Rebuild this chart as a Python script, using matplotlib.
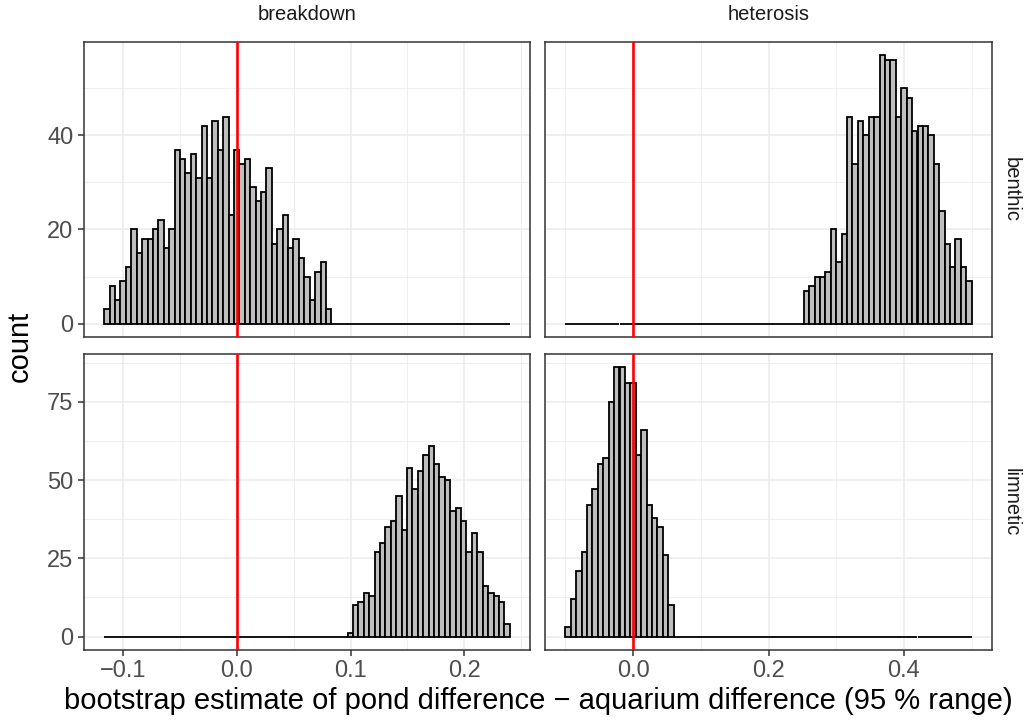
import numpy as np
import matplotlib
matplotlib.use("Agg")
import matplotlib.pyplot as plt

plt.rcParams['font.family'] = ['Liberation Sans', 'DejaVu Sans']
plt.rcParams['axes.unicode_minus'] = True

# ---------------- data ----------------
n_bins = 75
col_names = ["breakdown", "heterosis"]
row_names = ["benthic", "limnetic"]

# x range covered by the bins of each column (shared by panels in a column)
breakdown_range = (-0.1165, 0.2400)
heterosis_range = (-0.1000, 0.5000)

# position (x value) of the first non-empty bin in each panel
benthic_breakdown_start = -0.1165
limnetic_breakdown_start = 0.0977
benthic_heterosis_start = 0.2520
limnetic_heterosis_start = -0.1000

benthic_breakdown_counts = [3, 8, 5, 9, 12, 20, 15, 18, 18, 20, 22, 16, 20, 37, 35, 32, 36, 31,
                            42, 31, 43, 37, 44, 23, 37, 34, 35, 29, 26, 28, 33, 17, 20, 23, 16,
                            18, 14, 10, 5, 11, 13, 3]
limnetic_breakdown_counts = [1, 10, 11, 14, 13, 27, 30, 35, 37, 45, 34, 54, 47, 53, 58, 61, 55,
                             51, 50, 40, 41, 37, 27, 33, 27, 16, 14, 13, 11, 4]
benthic_heterosis_counts = [7, 8, 10, 10, 11, 20, 13, 19, 44, 34, 43, 40, 44, 44, 57, 56, 56, 44,
                            50, 48, 41, 42, 42, 40, 34, 24, 17, 12, 18, 12, 9]
limnetic_heterosis_counts = [3, 12, 21, 27, 42, 47, 55, 57, 75, 86, 86, 81, 81, 58, 66, 42, 38,
                             35, 26, 10]

x_major_breakdown = [-0.1, 0.0, 0.1, 0.2]
x_labels_breakdown = ["\u22120.1", "0.0", "0.1", "0.2"]
x_minor_breakdown = [-0.05, 0.05, 0.15, 0.25]
x_major_heterosis = [0.0, 0.2, 0.4]
x_labels_heterosis = ["0.0", "0.2", "0.4"]
x_minor_heterosis = [-0.1, 0.1, 0.3, 0.5]

y_major_benthic = [0, 20, 40]
y_minor_benthic = [10, 30, 50]
y_major_limnetic = [0, 25, 50, 75]
y_minor_limnetic = [12.5, 37.5, 62.5, 87.5]

ref_line = 0.0

# ---------------- figure ----------------
W, H = 1030, 726
fig = plt.figure(figsize=(W / 100, H / 100), dpi=100)

col_px = [(84, 530), (545, 992)]
row_px = [(42, 337), (354, 650)]

panels = {
    (0, 0): (benthic_breakdown_counts, benthic_breakdown_start),
    (1, 0): (limnetic_breakdown_counts, limnetic_breakdown_start),
    (0, 1): (benthic_heterosis_counts, benthic_heterosis_start),
    (1, 1): (limnetic_heterosis_counts, limnetic_heterosis_start),
}
col_ranges = [breakdown_range, heterosis_range]
x_major = [x_major_breakdown, x_major_heterosis]
x_labels = [x_labels_breakdown, x_labels_heterosis]
x_minor = [x_minor_breakdown, x_minor_heterosis]
y_major = [y_major_benthic, y_major_limnetic]
y_minor = [y_minor_benthic, y_minor_limnetic]

row_max = []
for r in range(2):
    row_max.append(max(max(panels[(r, 0)][0]), max(panels[(r, 1)][0])))

grid_col = '#EBEBEB'
border_col = '#333333'

for r in range(2):
    for c in range(2):
        x0, x1 = col_px[c]
        y0, y1 = row_px[r]
        ax = fig.add_axes([x0 / W, 1 - y1 / H, (x1 - x0) / W, (y1 - y0) / H])
        lo, hi = col_ranges[c]
        edges = np.linspace(lo, hi, n_bins + 1)
        bw = edges[1] - edges[0]
        vals, start = panels[(r, c)]
        full = np.zeros(n_bins)
        i0 = int(round((start - lo) / bw))
        full[i0:i0 + len(vals)] = vals
        ax.bar(edges[:-1], full, width=bw, align='edge', color='#BEBEBE',
               edgecolor='black', linewidth=1.3, zorder=2)
        ax.axvline(ref_line, color='red', linewidth=1.9, zorder=3)

        span = hi - lo
        ax.set_xlim(lo - 0.05 * span, hi + 0.05 * span)
        ym = row_max[r]
        ax.set_ylim(-0.05 * ym, 1.05 * ym)

        ax.set_xticks(x_major[c])
        ax.set_xticklabels(x_labels[c])
        ax.set_xticks(x_minor[c], minor=True)
        ax.set_yticks(y_major[r])
        ax.set_yticklabels([str(v) for v in y_major[r]])
        ax.set_yticks(y_minor[r], minor=True)
        ax.grid(which='major', color=grid_col, linewidth=1.1, zorder=0)
        ax.grid(which='minor', color=grid_col, linewidth=0.55, zorder=0)
        ax.set_axisbelow(True)
        for s in ax.spines.values():
            s.set_color(border_col)
            s.set_linewidth(1.1)
        ax.tick_params(which='major', length=4.5, width=1.1, color=border_col,
                       labelcolor='#4D4D4D', labelsize=17, pad=3)
        ax.tick_params(which='minor', length=0)
        if r == 0:
            ax.tick_params(axis='x', which='both', bottom=False, labelbottom=False)
        if c == 1:
            ax.tick_params(axis='y', which='both', left=False, labelleft=False)

# strip labels
for c in range(2):
    x0, x1 = col_px[c]
    fig.text((x0 + x1) / 2 / W, 1 - 15 / H, col_names[c], ha='center', va='center',
             fontsize=14.5, color='#1A1A1A')
for r in range(2):
    y0, y1 = row_px[r]
    fig.text(1011 / W, 1 - (y0 + y1) / 2 / H, row_names[r], ha='center', va='center',
             rotation=-90, fontsize=14.5, color='#1A1A1A')

fig.text(20 / W, 1 - 346 / H, "count", rotation=90, ha='center', va='center', fontsize=21)
fig.text(538 / W, 1 - 701 / H,
         "bootstrap estimate of pond difference \u2212 aquarium difference (95 % range)",
         ha='center', va='center', fontsize=21)

fig.savefig("out.png", dpi=100)
